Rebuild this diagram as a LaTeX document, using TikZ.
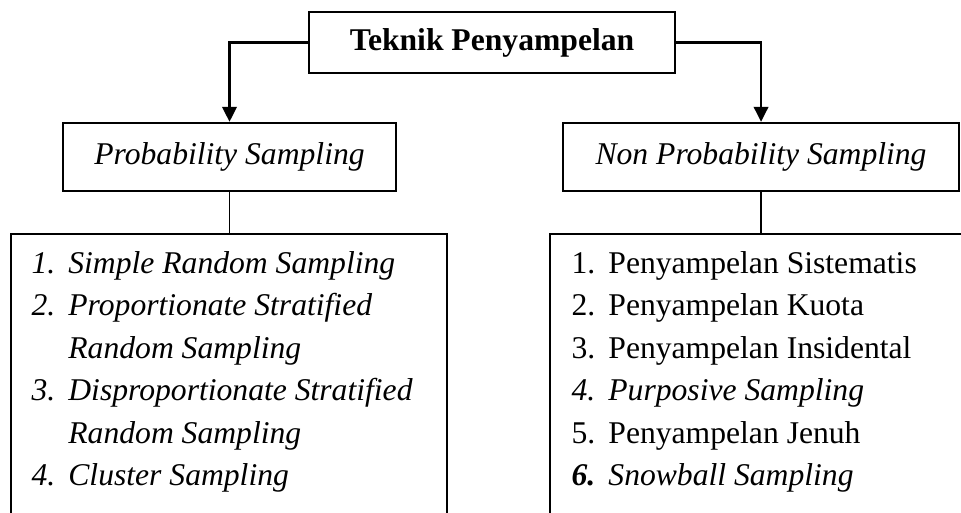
\documentclass[tikz,border=0pt]{standalone}
\usepackage{fontspec}
\setmainfont{Liberation Serif}
\usepackage{tikz}
\usetikzlibrary{arrows.meta,positioning}
\newcommand{\itemno}[1]{\makebox[14pt][l]{#1}}

\begin{document}
\begin{tikzpicture}[
root/.style={draw,line width=0.8pt,minimum width=4.88cm,minimum height=0.81cm,inner sep=0pt,font=\fontsize{12}{14}\selectfont\bfseries},
branch/.style={draw,line width=0.8pt,minimum height=0.91cm,inner sep=0pt,font=\fontsize{12}{14}\selectfont\itshape},
listbox/.style={draw,line width=0.8pt,minimum height=5cm,inner sep=0pt,anchor=north west},
items/.style={inner sep=0pt,anchor=north west,align=left,font=\fontsize{12}{16.1}\selectfont},
arr/.style={-{Triangle[length=5.7pt,width=5.5pt]},line width=0.9pt},
link/.style={line width=0.7pt}
]
\useasboundingbox (0,0) rectangle (12.813,-6.827);
\clip (0,0) rectangle (12.813,-6.827);
% top node and the two branches
\node[root] (teknik) at (6.56,-0.567) {Teknik Penyampelan};
\node[branch,minimum width=4.44cm] (prob) at (3.06,-2.093) {Probability Sampling};
\node[branch,minimum width=5.28cm] (nonprob) at (10.147,-2.093) {Non Probability Sampling};
\draw[arr] (teknik.west) -| (prob.north);
\draw[arr] (teknik.east) -| (nonprob.north);

% list boxes
\node[listbox,minimum width=5.813cm] (plist) at (0.133,-3.107) {};
\node[listbox,minimum width=7cm] (nlist) at (7.32,-3.107) {};
\draw[link] (prob.south) -- (prob.south |- plist.north);
\draw[link] (nonprob.south) -- (nonprob.south |- nlist.north);

\node[items,font=\fontsize{12}{16.1}\selectfont\itshape] (ptext) at ([xshift=0.28cm,yshift=-0.137cm]plist.north west) {%
\strut\itemno{1.}Simple Random Sampling\\
\strut\itemno{2.}Proportionate Stratified\\
\strut\itemno{}Random Sampling\\
\strut\itemno{3.}Disproportionate Stratified\\
\strut\itemno{}Random Sampling\\
\strut\itemno{4.}Cluster Sampling};
\node[items] (ntext) at ([xshift=0.293cm,yshift=-0.137cm]nlist.north west) {%
\strut\itemno{1.}Penyampelan Sistematis\\
\strut\itemno{2.}Penyampelan Kuota\\
\strut\itemno{3.}Penyampelan Insidental\\
\strut\itemno{\itshape 4.}\textit{Purposive Sampling}\\
\strut\itemno{5.}Penyampelan Jenuh\\
\strut\itemno{\bfseries\itshape 6.}\textit{Snowball Sampling}};
\end{tikzpicture}
\end{document}
